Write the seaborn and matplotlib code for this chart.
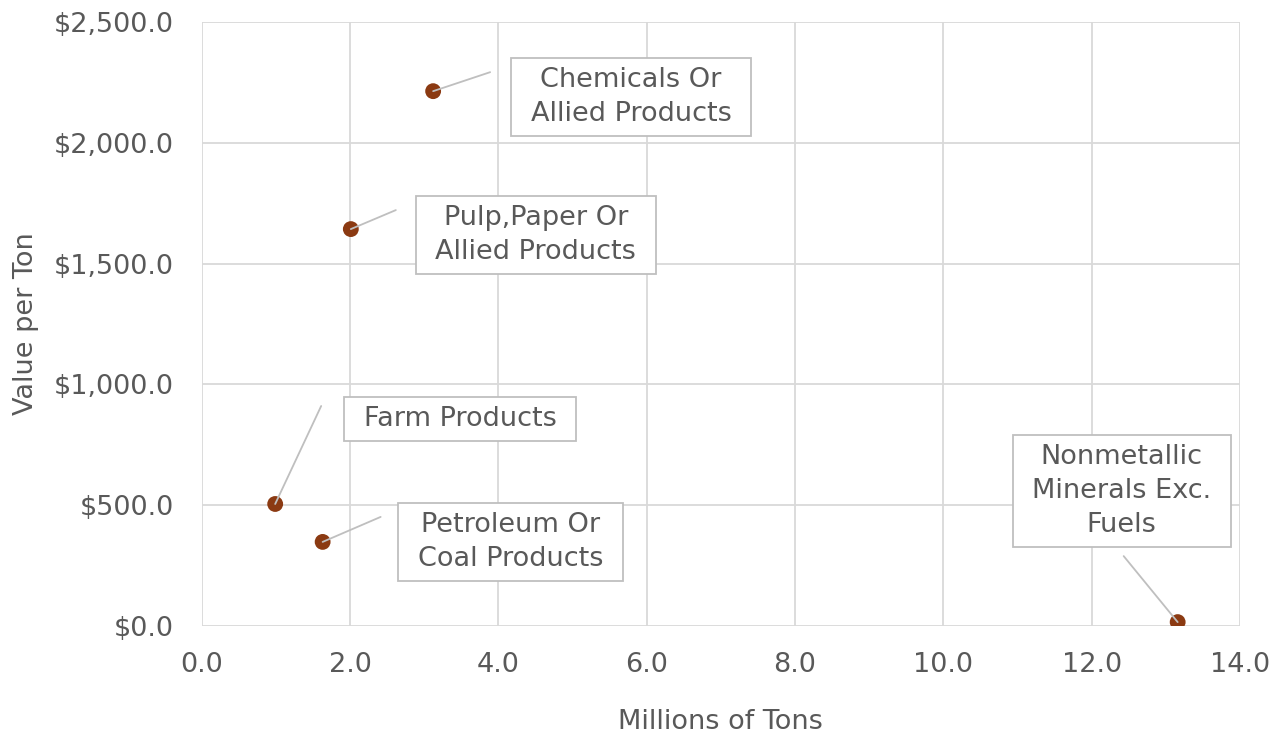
import matplotlib
matplotlib.use("Agg")
import matplotlib.pyplot as plt
import seaborn as sns
import pandas as pd
from matplotlib.path import Path
from matplotlib.ticker import FuncFormatter, MultipleLocator

# Commodity groups: shipped tonnage (millions) vs. value per ton
categories = [
    "Chemicals Or\nAllied Products",
    "Pulp,Paper Or\nAllied Products",
    "Farm Products",
    "Petroleum Or\nCoal Products",
    "Nonmetallic\nMinerals Exc.\nFuels",
]
million_tons = [3.12, 2.01, 0.99, 1.63, 13.16]
value_per_ton = [2214, 1643, 505, 348, 16]

df = pd.DataFrame({"label": categories, "tons": million_tons, "value": value_per_ton})

sns.set_theme(style="white")
plt.rcParams["font.family"] = ["DejaVu Sans"]

TEXT = "#595959"
GRID = "#d9d9d9"
DOT = "#8b3a12"
FS = 19.5


def label_box(x0, y0, width, height, mutation_size, padx=0.72, pady=0.34):
    """Rectangle with wider horizontal than vertical padding."""
    px, py = padx * mutation_size, pady * mutation_size
    x0, y0 = x0 - px, y0 - py
    x1, y1 = x0 + width + 2 * px, y0 + height + 2 * py
    return Path([(x0, y0), (x1, y0), (x1, y1), (x0, y1), (x0, y0)], closed=True)


fig = plt.figure(figsize=(12.77, 7.36), dpi=100)
ax = fig.add_axes([0.158, 0.1495, 0.813, 0.8205])

sns.scatterplot(data=df, x="tons", y="value", ax=ax, color=DOT, s=130,
                edgecolor="none", zorder=5, legend=False)

ax.set_xlim(0, 14)
ax.set_ylim(0, 2500)
ax.xaxis.set_major_locator(MultipleLocator(2))
ax.yaxis.set_major_locator(MultipleLocator(500))
ax.xaxis.set_major_formatter(FuncFormatter(lambda v, _: f"{v:.1f}"))
ax.yaxis.set_major_formatter(FuncFormatter(lambda v, _: f"${v:,.1f}"))
ax.grid(True, color=GRID, linewidth=1.3)
ax.set_axisbelow(True)
for s in ax.spines.values():
    s.set_visible(False)
ax.tick_params(axis="both", length=0, labelsize=FS, colors=TEXT)
ax.tick_params(axis="y", pad=20)
ax.tick_params(axis="x", pad=19)

ax.set_xlabel("Millions of Tons", fontsize=FS, color=TEXT, labelpad=22)
ax.set_ylabel("Value per Ton", fontsize=FS, color=TEXT, labelpad=11)

# leader-line end and label centre, offsets in pixels from each point
leader_end = [(57, 19), (45, 19), (46, 98), (58, 25), (-54, 66)]
label_pos = [(198, -6), (185, -6), (185, 85), (188, 0), (-56, 131)]

for lab, x, y, le, lp in zip(df["label"], df["tons"], df["value"], leader_end, label_pos):
    ax.annotate("", xy=(x, y), xytext=le, textcoords="offset pixels",
                arrowprops=dict(arrowstyle="-", color="#bfbfbf", lw=1.3,
                                shrinkA=0, shrinkB=0), zorder=6)
    ax.annotate(lab, xy=(x, y), xytext=lp,
                textcoords="offset pixels", ha="center", va="center",
                fontsize=FS, color=TEXT, linespacing=1.4, zorder=7,
                bbox=dict(boxstyle=label_box, fc="white", ec="#bfbfbf", lw=1.3))

fig.savefig("out.png", dpi=100, facecolor="white")
